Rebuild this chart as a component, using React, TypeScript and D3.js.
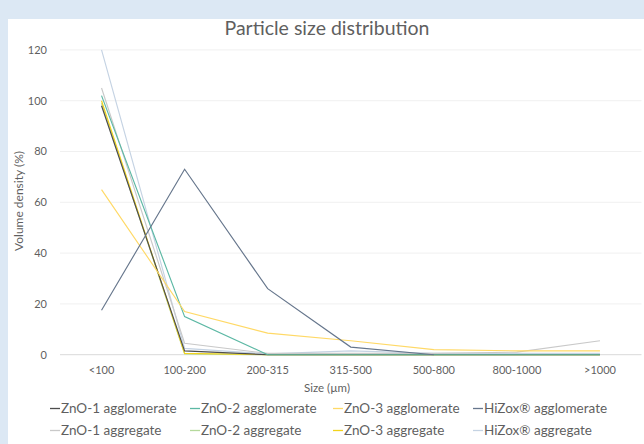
import React from "react";
import * as d3 from "d3";

const categories = ["<100", "100-200", "200-315", "315-500", "500-800", "800-1000", ">1000"];
const yTicks = [0, 20, 40, 60, 80, 100, 120];

const seriesNames = [
  "ZnO-1 agglomerate",
  "ZnO-2 agglomerate",
  "ZnO-3 agglomerate",
  "HiZox® agglomerate",
  "ZnO-1 aggregate",
  "ZnO-2 aggregate",
  "ZnO-3 aggregate",
  "HiZox® aggregate",
];
const seriesColors = ["#4d4d4d", "#5cb8a4", "#ffd966", "#66768c", "#c9c9c9", "#b5d99c", "#f2d31c", "#c5d3e3"];

const zno1Agglomerate = [98, 1.5, 0, 0, 0, 0, 0];
const zno2Agglomerate = [102, 15, 0, 0, 0, 0, 0];
const zno3Agglomerate = [65, 17, 8.5, 5.5, 2, 1.5, 1.5];
const hizoxAgglomerate: (number | null)[] = [17.5, 73, 26, 3, 0, null, null];
const zno1Aggregate = [105, 4.5, 0.5, 0.5, 0.5, 1, 5.5];
const zno2Aggregate = [99, 0.3, 0, 0, 0, 0, 0];
const zno3Aggregate = [100, 0.5, 0, 0, 0, 0, 0];
const hizoxAggregate = [120, 2.5, 0.3, 1.5, 0.5, 0.5, 0.5];

const seriesValues: (number | null)[][] = [
  zno1Agglomerate,
  zno2Agglomerate,
  zno3Agglomerate,
  hizoxAgglomerate,
  zno1Aggregate,
  zno2Aggregate,
  zno3Aggregate,
  hizoxAggregate,
];

const drawOrder = [7, 4, 5, 6, 0, 1, 2, 3];

const FONT = "Lato, 'Open Sans', sans-serif";
const TXT = "#5f5f5f";

export default function App() {
  const W = 644, H = 444;
  const x = d3.scaleBand<string>().domain(categories).range([60, 641.5]).padding(0);
  const y = d3.scaleLinear().domain([0, 120]).range([354.7, 49.9]);
  const cx = (c: string) => (x(c) ?? 0) + x.bandwidth() / 2;
  const line = d3
    .line<number | null>()
    .defined((d) => d !== null)
    .x((_, i) => cx(categories[i]))
    .y((d) => y(d as number));

  const legendCols = [50, 190, 333, 473];
  const legendRows = [413, 435];

  return (
    <svg width={W} height={H} style={{ position: "absolute", left: 0, top: 0 }} fontFamily={FONT}>
      <rect x={0} y={0} width={W} height={H} fill="#dce8f4" />
      <rect x={8} y={19} width={W - 8} height={H - 19} fill="#ffffff" />
      <text x={327} y={35} textAnchor="middle" fontSize={19.5} fill={TXT}>
        Particle size distribution
      </text>
      {yTicks.map((t) => (
        <g key={t}>
          <line x1={60} x2={641.5} y1={y(t)} y2={y(t)} stroke={t === 0 ? "#d9d9d9" : "#f0f0f0"} strokeWidth={1} />
          <text x={47} y={y(t)} dy="0.35em" textAnchor="end" fontSize={11} fill={TXT}>
            {t}
          </text>
        </g>
      ))}
      {categories.map((c) => (
        <text key={c} x={cx(c)} y={374} textAnchor="middle" fontSize={11} fill={TXT}>
          {c}
        </text>
      ))}
      <text x={327} y={392} textAnchor="middle" fontSize={11.5} fill={TXT}>
        Size (µm)
      </text>
      <text transform={`translate(23,201) rotate(-90)`} textAnchor="middle" fontSize={12} fill={TXT}>
        Volume density (%)
      </text>
      {drawOrder.map((i) => (
        <path key={i} d={line(seriesValues[i]) ?? ""} fill="none" stroke={seriesColors[i]} strokeWidth={1.15} />
      ))}
      {seriesNames.map((n, i) => {
        const lx = legendCols[i % 4];
        const ly = legendRows[Math.floor(i / 4)];
        return (
          <g key={n}>
            <line x1={lx} x2={lx + 10} y1={ly - 4.5} y2={ly - 4.5} stroke={seriesColors[i]} strokeWidth={1.3} />
            <text x={lx + 11} y={ly} fontSize={13.5} fill={TXT}>
              {n}
            </text>
          </g>
        );
      })}
    </svg>
  );
}
